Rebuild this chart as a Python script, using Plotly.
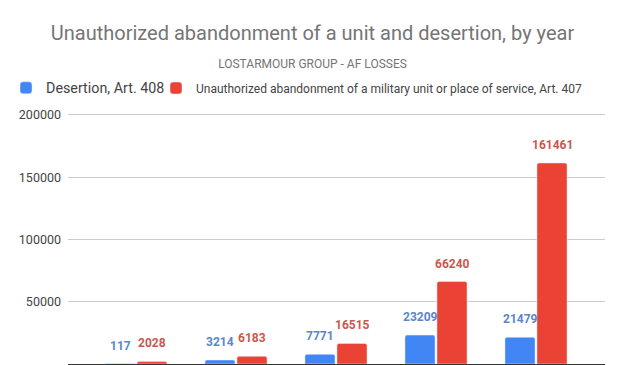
import plotly.graph_objects as go

years = ["2021", "2022", "2023", "2024", "2025"]
desertion = [117, 3214, 7771, 23209, 21479]
abandonment = [2028, 6183, 16515, 66240, 161461]
y_ticks = [0, 50000, 100000, 150000, 200000]

BLUE = "#4285F4"
RED = "#EA4335"
BLUE_LBL = "#5A86CA"
RED_LBL = "#C9584E"
FONT = "Roboto"

fig = go.Figure()
fig.add_trace(go.Bar(
    x=years, y=desertion, name="Desertion, Art. 408",
    marker=dict(color=BLUE, cornerradius=2), legend="legend",
))
fig.add_trace(go.Bar(
    x=years, y=abandonment,
    name="Unauthorized abandonment of a military unit or place of service, Art. 407",
    marker=dict(color=RED, cornerradius=2), legend="legend2",
))

annots = []
for series, color, shift in ((desertion, BLUE_LBL, -16), (abandonment, RED_LBL, 16)):
    for i, v in enumerate(series):
        annots.append(dict(x=i, y=v, xref="x", yref="y", text="<b>%d</b>" % v,
                           showarrow=False, xshift=shift, yshift=18,
                           font=dict(family=FONT, size=12, color=color)))

fig.update_layout(
    annotations=annots,
    width=625, height=365,
    margin=dict(l=68, r=20, t=113, b=1),
    paper_bgcolor="white", plot_bgcolor="white",
    font=dict(family=FONT, color="#444444"),
    title=dict(
        text="Unauthorized abandonment of a unit and desertion, by year",
        font=dict(family=FONT, size=20, color="#757575"),
        x=0.5, xanchor="center", xref="container",
        y=1 - 33 / 365, yanchor="middle", yref="container",
        subtitle=dict(text="LOSTARMOUR GROUP - AF LOSSES",
                      font=dict(family=FONT, size=12, color="#757575")),
    ),
    barmode="group", bargap=0.36, bargroupgap=0.06,
    showlegend=True,
    legend=dict(xref="container", yref="container", x=6 / 625, y=1 - 88 / 365,
                xanchor="left", yanchor="middle", orientation="h",
                font=dict(family=FONT, size=14.3, color="#444444"),
                bgcolor="rgba(0,0,0,0)", borderwidth=0),
    legend2=dict(xref="container", yref="container", x=156 / 625, y=1 - 88 / 365,
                 xanchor="left", yanchor="middle", orientation="h",
                 font=dict(family=FONT, size=12, color="#444444"),
                 bgcolor="rgba(0,0,0,0)", borderwidth=0),
    xaxis=dict(type="category", range=[-0.68, 4.69], showgrid=False,
               showticklabels=False, automargin=False, showline=False, ticks=""),
    yaxis=dict(range=[0, 201600], tickvals=y_ticks, ticktext=[str(t) for t in y_ticks],
               showgrid=True, gridcolor="#CCCCCC", gridwidth=1,
               zeroline=True, zerolinecolor="#333333", zerolinewidth=1,
               tickfont=dict(family=FONT, size=12.5, color="#444444"),
               ticks="", ticklabelstandoff=6, automargin=False),
)

fig.write_html("out.html", config={"displayModeBar": False},
               post_script="document.body.style.margin='0';")
